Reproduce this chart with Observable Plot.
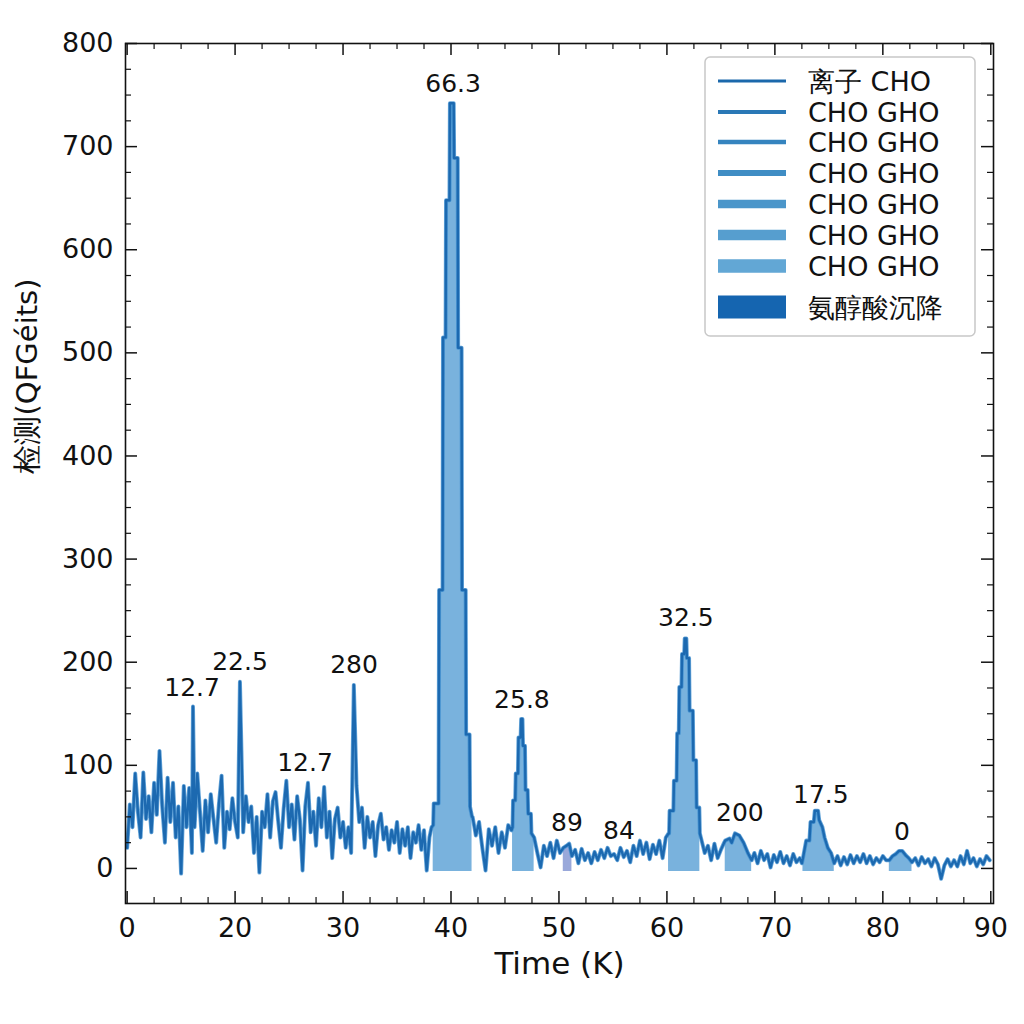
<!DOCTYPE html>
<html><head><meta charset="utf-8">
<script src="https://cdn.jsdelivr.net/npm/d3@7"></script>
<script src="https://cdn.jsdelivr.net/npm/@observablehq/plot@0.6"></script>
<style>body{margin:0;background:#fff} #chart{width:1024px;height:1024px}</style>
</head><body><div id="chart"></div>
<script>
// ---- data (time, signal) ----
const traceEarly = [
[10.00,20],[10.25,62],[10.50,40],[10.75,92],[11.00,55],[11.25,30],[11.50,93],[11.75,48],[12.00,70],[12.25,35],
[12.50,83],[12.75,52],[13.00,114],[13.25,60],[13.50,25],[13.75,88],[14.00,45],[14.25,83],[14.50,30],[14.75,60],
[15.00,-5],[15.25,80],[15.50,40],[15.75,78],[16.00,15],[16.10,157],[16.25,40],[16.50,92],[16.75,55],[17.00,17],
[17.25,66],[17.50,35],[17.75,72],[18.00,48],[18.25,25],[18.50,62],[18.75,90],[19.00,20],[19.25,55],[19.50,38],
[19.75,68],[20.00,45],[20.25,30],[20.45,181],[20.75,35],[21.00,70],[21.25,45],[21.50,60],[21.75,15],[22.00,50],
[22.25,-4],[22.50,55],[22.75,40],[23.00,72],[23.25,30],[23.50,65],[23.75,74],[24.00,45],[24.25,20],[24.50,58],
[24.75,85],[25.00,40],[25.25,62],[25.50,28],[25.75,70],[26.00,48],[26.25,-2],[26.50,60],[26.75,83],[27.00,35],
[27.25,55],[27.50,22],[27.75,68],[28.00,40],[28.25,79],[28.50,30],[28.75,55],[29.00,10],[29.25,48],[29.50,59],
[29.75,30],[30.00,45],[30.25,20],[30.50,40],[30.75,15],[31.00,178],[31.25,80],[31.50,45],[31.75,59],[32.00,20],
[32.25,50],[32.50,30],[32.75,45],[33.00,12],[33.25,42],[33.50,53],[33.75,28],[34.00,40],[34.25,18],[34.50,37],
[34.75,25],[35.00,45],[35.25,15],[35.50,38],[35.75,22],[36.00,40],[36.25,10],[36.50,35],[36.75,25],[37.00,42],
[37.25,18],[37.50,37],[37.75,-2],[38.00,30],[38.20,40]
];
const traceBigPeak = [
[38.35,42],[38.40,63],[38.85,63],[38.90,270],[39.22,270],[39.26,515],[39.50,515],[39.54,648],[39.86,648],
[39.90,742],[40.25,742],[40.29,689],[40.62,689],[40.66,505],[40.98,505],[41.02,270],[41.36,270],[41.40,130],
[41.72,130],[41.76,60],[41.95,50]
];
const traceMiddle = [
[42.00,50],[42.30,32],[42.60,45],[42.90,20],[43.20,-2],[43.50,38],[43.80,22],[44.10,40],[44.40,15],[44.70,35],
[45.00,20],[45.30,42],[45.60,37],[45.70,40],[45.75,66],[45.95,66],[46.00,92],[46.20,92],[46.25,127],[46.45,127],
[46.50,145],[46.62,145],[46.67,119],[46.85,119],[46.90,76],[47.10,76],[47.15,53],[47.40,53],[47.45,34],[47.70,30],
[48.00,15],[48.30,1],[48.60,22],[48.90,12],[49.20,25],[49.50,10],[49.80,27],[50.10,15],[50.40,20],[50.70,22],
[50.95,24],[51.20,12],[51.50,18],[51.80,5],[52.10,19],[52.40,8],[52.70,15],[53.00,5],[53.30,16],[53.60,8],
[53.90,18],[54.20,10],[54.50,20],[54.80,12],[55.10,14],[55.40,8],[55.70,20],[56.00,11],[56.30,17],[56.60,6],
[56.90,22],[57.20,12],[57.50,27],[57.80,14],[58.10,25],[58.40,9],[58.70,23],[59.00,14],[59.30,27],[59.60,10],
[59.90,30],[60.15,34],[60.20,34],[60.25,56],[60.60,56],[60.65,85],[60.90,85],[60.95,131],[61.10,131],[61.15,176],
[61.35,176],[61.40,208],[61.60,208],[61.65,223],[61.80,223],[61.85,204],[62.05,204],[62.10,153],[62.40,153],
[62.45,105],[62.70,105],[62.75,59],[63.00,59],[63.05,34],[63.50,15],[63.80,22],[64.10,8],[64.40,24],[64.70,10],
[65.00,18],[65.30,25]
];
const traceLate = [
[65.40,27],[65.80,29],[66.00,25],[66.30,34],[66.70,32],[67.10,25],[67.50,15],[67.85,8],[68.10,15],[68.40,5],
[68.70,17],[69.00,8],[69.30,14],[69.60,1],[69.90,13],[70.20,6],[70.50,16],[70.80,5],[71.10,12],[71.40,3],
[71.70,14],[72.00,6],[72.30,10],[72.50,5],[72.60,10],[72.90,27],[73.20,27],[73.30,45],[73.60,45],[73.70,56],
[74.00,56],[74.10,47],[74.40,40],[74.60,30],[74.90,20],[75.20,15],[75.50,5],[75.80,12],[76.10,3],[76.40,11],
[76.70,4],[77.00,13],[77.30,5],[77.60,12],[77.90,6],[78.20,14],[78.50,5],[78.80,12],[79.10,4],[79.40,10],
[79.70,6],[80.00,12],[80.30,8],[80.60,8],[80.90,12],[81.20,14],[81.50,17],[81.80,17],[82.10,13],[82.40,10],
[82.70,6],[83.00,10],[83.30,3],[83.60,11],[83.90,5],[84.20,9],[84.50,2],[84.80,10],[85.10,4],[85.40,-10],
[85.70,3],[86.00,9],[86.30,2],[86.60,8],[86.90,2],[87.20,12],[87.50,4],[87.80,17],[88.10,5],[88.40,10],
[88.70,2],[89.00,9],[89.30,4],[89.60,12],[89.90,8]
];
const fillWindows = [[38.35,41.95],[45.65,47.70],[50.40,51.25],[60.15,63.10],[65.35,67.90],[72.55,75.50],[80.55,82.70]];

const peakLabelTime  = [16.02, 20.46, 31.02, 26.48, 40.19, 46.57, 50.74, 55.56, 61.76, 66.76, 74.26, 81.76];
const peakLabelValue = [174.6, 199.8, 196.9, 101.8, 760.4, 163.0, 43.6, 35.9, 242.5, 53.3, 70.8, 34.9];
const peakLabelText  = ["12.7","22.5","280","12.7","66.3","25.8","89","84","32.5","200","17.5","0"];

const xMajor = [10,20,30,40,50,60,70,80,90];
const xTickLabels = ["0","20","30","40","50","60","70","80","90"];
const xMinor = [12.5,15,17.5,22.5,25,27.5,32.5,35,37.5,42.5,45,47.5,52.5,55,57.5,62.5,65,67.5,72.5,75,77.5,82.5,85,87.5];
const yMajor = [0,100,200,300,400,500,600,700,800];
const yMinor = [25,50,75,125,150,175,225,250,275,325,350,375,425,450,475,525,550,575,625,650,675,725,750,775];

const xLabel = "Time (K)";
const yLabel = "检测(QFGéits)";
const legendLabels = ["离子 CHO","CHO GHO","CHO GHO","CHO GHO","CHO GHO","CHO GHO","CHO GHO","氨醇酸沉降"];
const legendColors = ["#1b68ab","#2a78b6","#3584bf","#3f8dc4","#4b96ca","#569ecf","#62a7d5","#1565b0"];

// ---- build ----
const trace = [...traceEarly, ...traceBigPeak, ...traceMiddle, ...traceLate].map(([t, v]) => ({t, v}));
const fillData = [];
fillWindows.forEach(([a, b], k) => {
  trace.forEach(d => { if (d.t >= a && d.t <= b) fillData.push({...d, k}); });
});
const peakLabels = peakLabelText.map((s, i) => ({t: peakLabelTime[i], v: peakLabelValue[i], s}));

const W = 1024, H = 1024, mL = 125, mR = 31, mT = 43, mB = 121;
const fW = W - mL - mR, fH = H - mT - mB;
const font = "DejaVu Sans";
const major = 12, minor = 6;

const plot = Plot.plot({
  width: W, height: H,
  marginLeft: mL, marginRight: mR, marginTop: mT, marginBottom: mB,
  style: {fontFamily: font, background: "#fff", color: "#111"},
  x: {domain: [9.85, 90.25]},
  y: {domain: [-34, 800]},
  marks: [
    Plot.areaY(fillData, {x: "t", y: "v", y1: -3, z: "k",
      fill: d => d.k === 2 ? "#8e9fd6" : "#6aaad9", fillOpacity: 0.9}),
    Plot.line(trace, {x: "t", y: "v", stroke: "#3f8fcf", strokeWidth: 4, strokeLinejoin: "round", strokeOpacity: 0.8}),
    Plot.line(trace, {x: "t", y: "v", stroke: "#1c69b0", strokeWidth: 2.4, strokeLinejoin: "round"}),
    Plot.text(peakLabels, {x: "t", y: "v", text: "s", fontSize: 25, fill: "#111", fontFamily: font}),
    Plot.frame({stroke: "#111", strokeWidth: 1.6}),
    Plot.ruleX(xMajor, {x: d => d, insetTop: fH - major, stroke: "#111", strokeWidth: 1.5}),
    Plot.ruleX(xMajor, {x: d => d, insetBottom: fH - major, stroke: "#111", strokeWidth: 1.5}),
    Plot.ruleX(xMinor, {x: d => d, insetTop: fH - minor, stroke: "#111", strokeWidth: 1.2}),
    Plot.ruleX(xMinor, {x: d => d, insetBottom: fH - minor, stroke: "#111", strokeWidth: 1.2}),
    Plot.ruleY(yMajor, {y: d => d, insetRight: fW - major, stroke: "#111", strokeWidth: 1.5}),
    Plot.ruleY(yMajor, {y: d => d, insetLeft: fW - major, stroke: "#111", strokeWidth: 1.5}),
    Plot.ruleY(yMinor, {y: d => d, insetRight: fW - minor, stroke: "#111", strokeWidth: 1.2}),
    Plot.ruleY(yMinor, {y: d => d, insetLeft: fW - minor, stroke: "#111", strokeWidth: 1.2}),
    Plot.axisX({ticks: xMajor, tickSize: 0, tickPadding: 14, fontSize: 27, label: null,
      tickFormat: d => xTickLabels[xMajor.indexOf(d)]}),
    Plot.axisY({ticks: yMajor, tickSize: 0, tickPadding: 12, fontSize: 27, label: null}),
    Plot.text([xLabel], {frameAnchor: "bottom", dy: 70, fontSize: 31, fill: "#111", fontFamily: font}),
    Plot.text([yLabel], {frameAnchor: "left", dx: -98, rotate: -90, fontSize: 29, fill: "#111", fontFamily: font})
  ]
});

// legend
const svg = d3.select(plot);
const lg = svg.append("g").attr("font-family", font).attr("text-anchor", "start");
lg.append("rect").attr("x", 705).attr("y", 57).attr("width", 270).attr("height", 279)
  .attr("rx", 5).attr("fill", "#fff").attr("fill-opacity", 0.95).attr("stroke", "#c8c8c8").attr("stroke-width", 1.5);
const rowY = [81, 112, 142, 173, 204, 235, 266, 307];
const rowH = [3, 4, 4.5, 6, 8.5, 10.5, 13.5, 23];
legendLabels.forEach((s, i) => {
  lg.append("rect").attr("x", 718).attr("y", rowY[i] - rowH[i] / 2).attr("width", 68).attr("height", rowH[i])
    .attr("fill", legendColors[i]);
  lg.append("text").attr("x", 808).attr("y", rowY[i]).attr("dy", "0.36em").attr("text-anchor", "start")
    .attr("font-size", 27).attr("fill", "#111").text(s);
});

document.getElementById("chart").appendChild(plot);
</script>
</body></html>
